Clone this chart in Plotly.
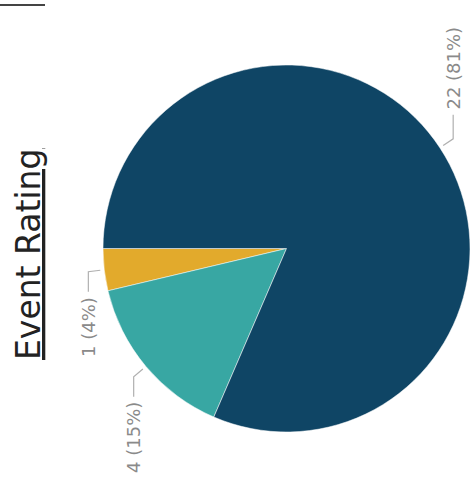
import math
import plotly.graph_objects as go

# Data
categories = ["1", "4", "22"]
values = [1, 4, 22]
colors = ["#e2aa2c", "#38a7a3", "#0f4565"]
title_text = "Event Rating"

W, H = 471, 495
# pie placement in pixels (top-left origin)
left, right, top, bottom = 103, 470, 65, 432
cx, cy = (left + right) / 2, (top + bottom) / 2
r = min(right - left, bottom - top) / 2


def px(x):
    return x / W


def py(y):
    return 1 - y / H


total = sum(values)

fig = go.Figure(go.Pie(
    labels=categories,
    values=values,
    marker=dict(colors=colors, line=dict(color="white", width=0.5)),
    sort=False,
    direction="counterclockwise",
    rotation=270 - 360 * values[0] / total,
    textinfo="none",
    hoverinfo="label+value+percent",
    showlegend=False,
    domain=dict(x=[px(left), px(right)], y=[py(bottom), py(top)]),
))

shapes = []
annotations = []
cum = 0
for v in values:
    frac_mid = (cum + v / 2) / total
    cum += v
    ang = math.radians(180 + 360 * frac_mid)
    ca, sa = math.cos(ang), math.sin(ang)
    x0, y0 = cx + (r + 4) * ca, cy - (r + 4) * sa
    x1, y1 = cx + (r + 16) * ca, cy - (r + 16) * sa
    up = sa > 0
    y2 = y1 - 24 if up else y1 + 20
    path = f"M {px(x0)},{py(y0)} L {px(x1)},{py(y1)} L {px(x1)},{py(y2)}"
    shapes.append(dict(type="path", xref="paper", yref="paper", path=path,
                       line=dict(color="#b0b0b0", width=1.2)))
    pct = round(100 * v / total)
    annotations.append(dict(
        text=f"{v} ({pct}%)", xref="paper", yref="paper",
        x=px(x1), y=py(y2 - 3 if up else y2 + 3),
        xanchor="center", yanchor="bottom" if up else "top",
        textangle=-90, showarrow=False,
        font=dict(family="DejaVu Sans", size=18, color="#8a8a8a"),
    ))

annotations.append(dict(
    text=f"<u>{title_text}</u>", xref="paper", yref="paper",
    x=px(28), y=py(255), xanchor="center", yanchor="middle",
    textangle=-90, showarrow=False,
    font=dict(family="DejaVu Sans", size=33, color="#222222"),
))

shapes.append(dict(type="line", xref="paper", yref="paper",
                   x0=0, x1=px(45), y0=py(5), y1=py(5),
                   line=dict(color="#444444", width=2)))

fig.update_layout(
    width=W, height=H,
    margin=dict(l=0, r=0, t=0, b=0),
    paper_bgcolor="white", plot_bgcolor="white",
    shapes=shapes, annotations=annotations,
)

fig.write_html("out.html", config={"displayModeBar": False},
               post_script="document.body.style.margin='0';")
